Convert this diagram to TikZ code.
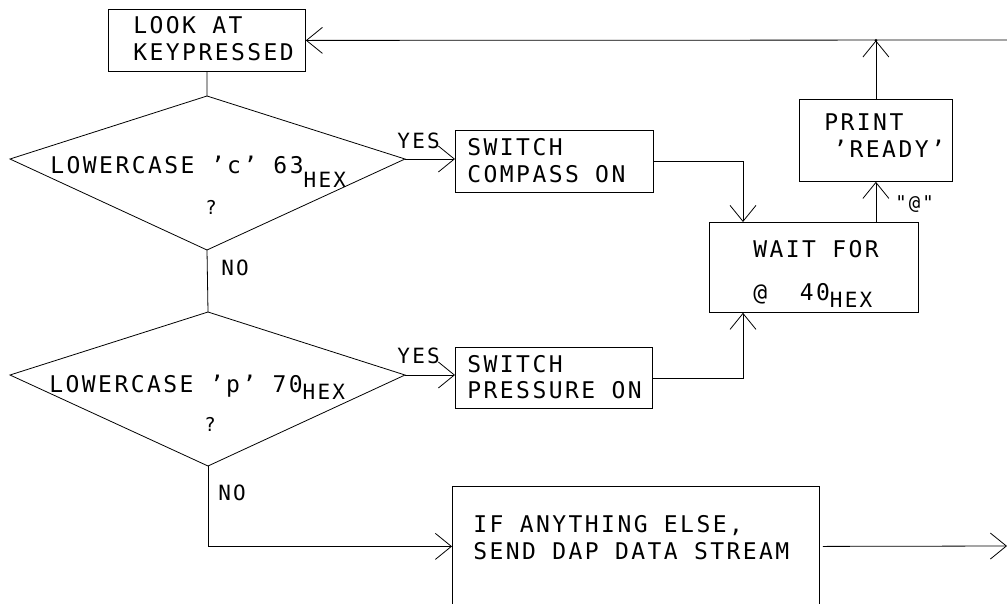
\documentclass[tikz,border=0pt]{standalone}
\usepackage{fontspec}
\usetikzlibrary{arrows.meta,calc}
\newfontfamily\plotfont{DejaVu Sans Mono}[LetterSpace=10.6]
\begin{document}
\begin{tikzpicture}[x=1pt,y=-1pt, line width=0.8pt,
  box/.style={draw, rectangle, inner sep=0pt, anchor=north west},
  txt/.style={inner sep=0pt, anchor=base west, font=\plotfont\fontsize{23}{27}\selectfont},
  lbl/.style={inner sep=0pt, anchor=base west, font=\plotfont\fontsize{21}{25}\selectfont},
  sml/.style={inner sep=0pt, anchor=base west, font=\plotfont\fontsize{19}{22}\selectfont},
  arr/.style={-{Straight Barb[length=16pt,width=26pt,line width=0.8pt]}}
]
\useasboundingbox (0,0) rectangle (1007,603);
\clip (0,0) rectangle (1007,603);

% boxes
\node[box, minimum width=197pt, minimum height=62pt] (look) at (108,9) {};
\node[box, minimum width=198pt, minimum height=62pt] (compass) at (455,130) {};
\node[box, minimum width=197pt, minimum height=61pt] (pressure) at (455,347) {};
\node[box, minimum width=209pt, minimum height=90pt] (wait) at (709,222) {};
\node[box, minimum width=153pt, minimum height=82pt] (print) at (799,99) {};
\node[box, minimum width=367pt, minimum height=120pt] (other) at (452,486) {};

% decisions
\coordinate (d1t) at (207,96);
\coordinate (d1r) at (405,159);
\coordinate (d1b) at (207,250);
\coordinate (d1l) at (10,159);
\coordinate (d2t) at (208,312);
\coordinate (d2r) at (405,375);
\coordinate (d2b) at (208,466);
\coordinate (d2l) at (10,375);
\draw (d1t) -- (d1r) -- (d1b) -- (d1l) -- cycle;
\draw (d2t) -- (d2r) -- (d2b) -- (d2l) -- cycle;

% connectors
\coordinate (retR) at (1007,40);
\coordinate (outR) at (1007,546);
\coordinate (wtin) at ($(wait.north west)+(34,0)$);
\coordinate (wbin) at ($(wait.south west)+(34,0)$);
\coordinate (j) at (print.north |- look.east);
\draw[arr] (retR) -- (look.east);
\draw[arr] (print.north) -- (j);
\fill (j) circle (1.5);
\draw (look.south) -- (d1t);
\draw[arr] (d1r) -- (d1r -| compass.west);
\draw (d1b) -- (d2t);
\draw[arr] (d2r) -- (d2r -| pressure.west);
\draw[arr] (compass.east) -| (wtin);
\draw[arr] (pressure.east) -| (wbin);
\draw[arr] (print.south |- wait.north) -- (print.south);
\draw[arr] (d2b) |- (other.west);
\draw[arr] ([xshift=3pt]other.east) -- (outR);

% texts
\node[txt] (tlook1) at (133,33) {LOOK AT};
\node[txt] (tlook2) at (133,60) {KEYPRESSED};
\node[txt] (tq1) at (50,173) {LOWERCASE ’c’ 63\raisebox{-14pt}{\fontsize{21}{25}\selectfont HEX}};
\node[sml, anchor=base] (tq1b) at (211,214) {?};
\node[lbl] (yes1) at (397,148) {YES};
\node[lbl] (no1) at (221,275) {NO};
\node[txt] (tc1) at (467,155) {SWITCH};
\node[txt] (tc2) at (467,182) {COMPASS ON};
\node[txt] (tq2) at (49,392) {LOWERCASE ’p’ 70\raisebox{-7pt}{\fontsize{21}{25}\selectfont HEX}};
\node[sml, anchor=base] (tq2b) at (210,431) {?};
\node[lbl] (yes2) at (397,363) {YES};
\node[lbl] (no2) at (218,500) {NO};
\node[txt] (tp1) at (467,372) {SWITCH};
\node[txt] (tp2) at (467,398) {PRESSURE ON};
\node[txt] (tw1) at (753,257) {WAIT FOR};
\node[txt] (tw2) at (753,300) {@\ \ 40\raisebox{-7pt}{\fontsize{21}{25}\selectfont HEX}};
\node[txt] (tpr1) at (824,130) {PRINT};
\node[txt] (tpr2) at (833,157) {’READY’};
\node[sml] (tat) at (895,209) {"@"};
\node[txt] (to1) at (473,532) {IF ANYTHING ELSE,};
\node[txt] (to2) at (473,559) {SEND DAP DATA STREAM};
\end{tikzpicture}
\end{document}
